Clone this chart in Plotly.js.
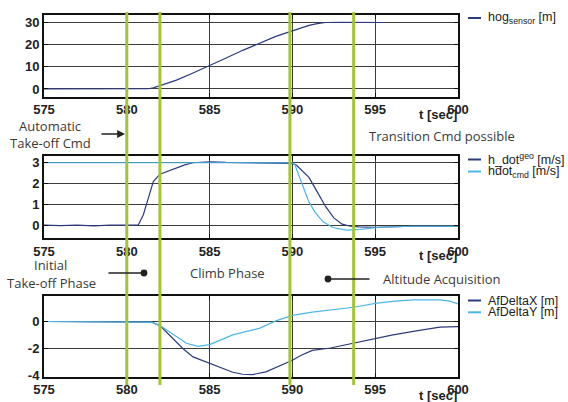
<!DOCTYPE html>
<html>
<head>
<meta charset="utf-8">
<script src="https://cdn.plot.ly/plotly-3.0.1.min.js"></script>
<style>html,body{margin:0;padding:0;background:#fff;}#chart{width:568px;height:402px;}</style>
</head>
<body>
<div id="chart"></div>
<script>
// ---- data ----
const xTicks = [575, 580, 585, 590, 595, 600];
const phaseTimes = [580, 582, 589.85, 593.7];

const tHog = [575, 577, 579, 580, 581, 581.3, 581.6, 582, 582.5, 583, 584, 585, 586, 587, 588, 589, 590, 590.5, 591, 591.5, 592, 593, 594, 595, 595.6];
const hogSensor = [0, 0, 0, 0, 0, 0.1, 0.5, 1.5, 2.6, 4, 7.2, 10.5, 14, 17.5, 20.8, 23.8, 26.3, 27.6, 28.8, 29.6, 30.1, 30.2, 30.2, 30.1, 30.1];

const tGeo = [575, 576, 577, 578, 579, 580, 580.5, 580.7, 581, 581.3, 581.6, 582, 582.5, 583, 583.5, 584, 585, 586, 587, 588, 589, 590, 590.25, 590.5, 591, 591.5, 592, 592.5, 593, 593.5, 594, 595, 596, 597, 598, 599, 600];
const hdotGeo = [0, -0.02, 0, -0.03, 0, -0.01, 0, 0.02, 0.5, 1.3, 2.1, 2.45, 2.6, 2.75, 2.9, 3.0, 3.05, 3.02, 3.0, 2.98, 2.98, 2.97, 2.88, 2.7, 2.3, 1.6, 0.9, 0.35, 0.05, -0.05, -0.08, -0.1, -0.07, -0.05, -0.04, -0.05, -0.05];

const tCmd = [575, 590, 590.15, 590.35, 590.65, 590.95, 591.35, 591.85, 592.45, 593.25, 594.1, 595.3, 597.3, 600];
const hdotCmd = [3.0, 3.0, 2.9, 2.5, 1.85, 1.2, 0.64, 0.16, -0.11, -0.24, -0.2, -0.1, -0.05, -0.05];

const tDX = [575, 578, 581, 581.5, 582, 582.5, 583, 583.4, 584, 585, 586, 586.4, 587, 587.6, 588.4, 589.3, 590, 590.5, 591.2, 592.3, 593.7, 595.1, 596, 597.3, 598.9, 600];
const afDeltaX = [0, 0, 0, -0.05, -0.3, -0.9, -1.5, -2.0, -2.6, -3.05, -3.55, -3.73, -3.88, -3.9, -3.7, -3.2, -2.85, -2.5, -2.12, -1.95, -1.58, -1.22, -1.0, -0.73, -0.41, -0.37];

const tDY = [575, 578, 581, 581.5, 582, 582.5, 583, 583.6, 584.3, 585, 586.4, 587.2, 588, 589, 590, 591.2, 592.5, 593.7, 595.1, 596.2, 597.3, 598.9, 599.5, 600];
const afDeltaY = [0, 0, 0, -0.05, -0.3, -0.7, -1.1, -1.6, -1.83, -1.7, -0.98, -0.75, -0.5, 0.05, 0.45, 0.69, 0.88, 1.05, 1.35, 1.5, 1.59, 1.59, 1.5, 1.3];

const yTicks1 = [0, 10, 20, 30];
const yTicks2 = [0, 1, 2, 3];
const yTicks3 = [-4, -2, 0];

const legendNames = [
  'hog<sub>sensor</sub> [m]',
  'h_dot<sup>geo</sup> [m/s]',
  'hdot<sub>cmd</sub> [m/s]',
  'AfDeltaX [m]',
  'AfDeltaY [m]'
];

// ---- styling ----
const W = 568, H = 402;
const fx = p => p / W;
const fy = p => 1 - p / H;
const NAVY = '#2c3b7c';
const LIGHT = '#4db6e6';
const GREEN = '#a3c33c';
const TXT = '#3a3a3a';
const tickFont = {family: 'Liberation Sans, Arial, sans-serif', size: 13, color: '#222', weight: 'bold'};
const noteFont = {family: 'Open Sans, sans-serif', size: 13, color: TXT};
const legFont = {family: 'Liberation Sans, Arial, sans-serif', size: 12.5, color: '#222'};

const traces = [
  {x: tHog, y: hogSensor, xaxis: 'x', yaxis: 'y', name: legendNames[0], mode: 'lines', line: {color: NAVY, width: 1.2}},
  {x: tGeo, y: hdotGeo, xaxis: 'x2', yaxis: 'y2', name: legendNames[1], mode: 'lines', line: {color: NAVY, width: 1.2}},
  {x: tCmd, y: hdotCmd, xaxis: 'x2', yaxis: 'y2', name: legendNames[2], mode: 'lines', line: {color: LIGHT, width: 1.2}},
  {x: tDX, y: afDeltaX, xaxis: 'x3', yaxis: 'y3', name: legendNames[3], mode: 'lines', line: {color: NAVY, width: 1.2}},
  {x: tDY, y: afDeltaY, xaxis: 'x3', yaxis: 'y3', name: legendNames[4], mode: 'lines', line: {color: LIGHT, width: 1.2}}
];

function xAxis(anchor) {
  return {
    anchor: anchor, range: [575, 600], domain: [fx(44), fx(458)],
    tickvals: xTicks, ticktext: xTicks.map(String),
    showgrid: true, gridcolor: '#3c3c3c', gridwidth: 1,
    showline: true, linecolor: '#111', linewidth: 2, mirror: 'allticks',
    ticks: 'inside', ticklen: 4, tickcolor: '#111', zeroline: false,
    tickfont: tickFont, ticklabelstandoff: 0
  };
}
function yAxis(anchor, range, ticks, top, bottom) {
  return {
    anchor: anchor, range: range, domain: [fy(bottom), fy(top)],
    tickvals: ticks, ticktext: ticks.map(String),
    showgrid: true, gridcolor: '#3c3c3c', gridwidth: 1,
    showline: true, linecolor: '#111', linewidth: 2, mirror: 'allticks',
    ticks: 'inside', ticklen: 4, tickcolor: '#111', zeroline: false,
    tickfont: tickFont
  };
}

const shapes = [];
phaseTimes.forEach(t => shapes.push({
  type: 'line', xref: 'x', yref: 'paper', x0: t, x1: t, y0: fy(385), y1: fy(12),
  line: {color: GREEN, width: 3}, layer: 'above'
}));

// legend keys
const legendRows = [
  {y: 18, color: NAVY, name: legendNames[0]},
  {y: 159.5, color: NAVY, name: legendNames[1]},
  {y: 171.5, color: LIGHT, name: legendNames[2]},
  {y: 300.5, color: NAVY, name: legendNames[3]},
  {y: 312.3, color: LIGHT, name: legendNames[4]}
];
const annotations = [];
legendRows.forEach(r => {
  shapes.push({type: 'line', xref: 'paper', yref: 'paper', x0: fx(468), x1: fx(481), y0: fy(r.y), y1: fy(r.y), line: {color: r.color, width: 2}});
  annotations.push({xref: 'paper', yref: 'paper', x: fx(486), y: fy(r.y), xanchor: 'left', yanchor: 'middle', text: r.name, showarrow: false, font: legFont});
});

[115, 255, 395].forEach(y => annotations.push({
  xref: 'paper', yref: 'paper', x: fx(438), y: fy(y), xanchor: 'center', yanchor: 'middle',
  text: 't [sec]', showarrow: false, font: {family: 'Liberation Sans, Arial, sans-serif', size: 13, color: '#222', weight: 'bold'}
}));

const notes = [
  {x: 50, y: 126, text: 'Automatic', anchor: 'center'},
  {x: 50, y: 143, text: 'Take-off Cmd', anchor: 'center'},
  {x: 367, y: 136, text: 'Transition Cmd possible', anchor: 'left'},
  {x: 50, y: 265, text: 'Initial', anchor: 'center'},
  {x: 51, y: 283, text: 'Take-off Phase', anchor: 'center'},
  {x: 188, y: 273, text: 'Climb Phase', anchor: 'left'},
  {x: 381, y: 279, text: 'Altitude Acquisition', anchor: 'left'}
];
notes.forEach(n => annotations.push({
  xref: 'paper', yref: 'paper', x: fx(n.x), y: fy(n.y), xanchor: n.anchor, yanchor: 'middle',
  text: n.text, showarrow: false, font: noteFont
}));

// arrows
annotations.push({xref: 'paper', yref: 'paper', x: fx(125), y: fy(134), ax: -25, ay: 0,
  text: '', showarrow: true, arrowhead: 2, arrowsize: 1.2, arrowwidth: 1.3, arrowcolor: '#222'});
annotations.push({xref: 'paper', yref: 'paper', x: fx(144), y: fy(273), ax: -37, ay: 0,
  text: '', showarrow: true, arrowhead: 6, arrowsize: 1.3, arrowwidth: 1.3, arrowcolor: '#222'});
annotations.push({xref: 'paper', yref: 'paper', x: fx(328), y: fy(279), ax: 43, ay: 0,
  text: '', showarrow: true, arrowhead: 6, arrowsize: 1.3, arrowwidth: 1.3, arrowcolor: '#222'});

const layout = {
  width: W, height: H,
  margin: {l: 0, r: 0, t: 0, b: 0},
  paper_bgcolor: '#fff', plot_bgcolor: '#fff',
  showlegend: false,
  xaxis: xAxis('y'), xaxis2: xAxis('y2'), xaxis3: xAxis('y3'),
  yaxis: yAxis('x', [-3.5, 33.5], yTicks1, 15, 96.7),
  yaxis2: yAxis('x2', [-0.63, 3.34], yTicks2, 155.7, 238.3),
  yaxis3: yAxis('x3', [-4.06, 1.9], yTicks3, 295.7, 376.7),
  shapes: shapes,
  annotations: annotations
};

Plotly.newPlot('chart', traces, layout, {displayModeBar: false, staticPlot: true});
</script>
</body>
</html>
